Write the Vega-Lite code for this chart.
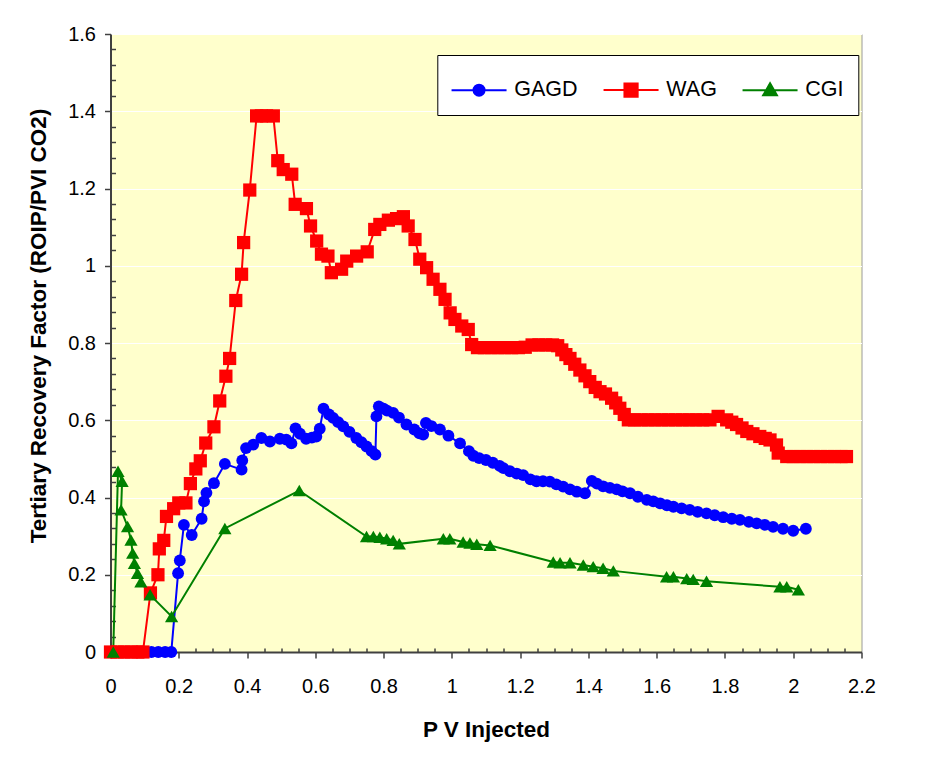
{
  "$schema": "https://vega.github.io/schema/vega-lite/v6.json",
  "width": 751,
  "height": 618,
  "autosize": {"type": "none"},
  "padding": {"left": 110.5, "top": 34, "right": 74.5, "bottom": 110},
  "background": "white",
  "config": {
    "view": {"fill": "#FFFFCC", "stroke": "#9A9A9A", "strokeWidth": 1},
    "font": "Liberation Sans",
    "axis": {
      "labelFont": "Liberation Sans",
      "labelFontSize": 20,
      "labelColor": "black",
      "titleFont": "Liberation Sans",
      "titleFontSize": 22.5,
      "titleFontWeight": "bold",
      "titleColor": "black",
      "domainColor": "#404040",
      "domainWidth": 2,
      "tickColor": "#404040",
      "tickWidth": 1.5
    },
    "legend": {
      "orient": "none", "legendX": 326.8, "legendY": 21,
      "direction": "horizontal",
      "titleFontSize": 9, "titlePadding": 1,
      "padding": 14,
      "strokeColor": "black", "fillColor": "white",
      "symbolSize": 121, "symbolStrokeWidth": 2, "symbolOffset": 17,
      "labelFont": "Liberation Sans", "labelFontSize": 21.5, "labelColor": "black",
      "labelOffset": 24.5, "columnPadding": 21
    }
  },
  "data": {"values": [
    {"s":"GAGD","x":0,"y":0},{"s":"GAGD","x":0.03,"y":0},{"s":"GAGD","x":0.06,"y":0},{"s":"GAGD","x":0.09,"y":0},{"s":"GAGD","x":0.12,"y":0},{"s":"GAGD","x":0.14,"y":0},{"s":"GAGD","x":0.16,"y":0},{"s":"GAGD","x":0.178,"y":0},
    {"s":"GAGD","x":0.198,"y":0.204},{"s":"GAGD","x":0.203,"y":0.237},{"s":"GAGD","x":0.215,"y":0.329},{"s":"GAGD","x":0.238,"y":0.303},{"s":"GAGD","x":0.267,"y":0.345},{"s":"GAGD","x":0.274,"y":0.39},{"s":"GAGD","x":0.281,"y":0.412},{"s":"GAGD","x":0.303,"y":0.437},{"s":"GAGD","x":0.335,"y":0.487},{"s":"GAGD","x":0.384,"y":0.472},{"s":"GAGD","x":0.386,"y":0.496},{"s":"GAGD","x":0.397,"y":0.528},{"s":"GAGD","x":0.418,"y":0.537},{"s":"GAGD","x":0.442,"y":0.554},{"s":"GAGD","x":0.467,"y":0.545},{"s":"GAGD","x":0.496,"y":0.552},{"s":"GAGD","x":0.515,"y":0.55},{"s":"GAGD","x":0.53,"y":0.54},{"s":"GAGD","x":0.542,"y":0.579},{"s":"GAGD","x":0.555,"y":0.565},{"s":"GAGD","x":0.573,"y":0.552},{"s":"GAGD","x":0.59,"y":0.555},{"s":"GAGD","x":0.603,"y":0.558},{"s":"GAGD","x":0.613,"y":0.578},{"s":"GAGD","x":0.624,"y":0.63},{"s":"GAGD","x":0.64,"y":0.615},{"s":"GAGD","x":0.652,"y":0.606},{"s":"GAGD","x":0.667,"y":0.595},{"s":"GAGD","x":0.682,"y":0.584},{"s":"GAGD","x":0.7,"y":0.57},{"s":"GAGD","x":0.72,"y":0.554},{"s":"GAGD","x":0.735,"y":0.543},{"s":"GAGD","x":0.75,"y":0.532},{"s":"GAGD","x":0.765,"y":0.52},{"s":"GAGD","x":0.776,"y":0.511},{"s":"GAGD","x":0.779,"y":0.61},{"s":"GAGD","x":0.786,"y":0.636},{"s":"GAGD","x":0.8,"y":0.63},{"s":"GAGD","x":0.81,"y":0.625},{"s":"GAGD","x":0.828,"y":0.619},{"s":"GAGD","x":0.845,"y":0.607},{"s":"GAGD","x":0.867,"y":0.589},{"s":"GAGD","x":0.89,"y":0.576},{"s":"GAGD","x":0.905,"y":0.566},{"s":"GAGD","x":0.916,"y":0.563},{"s":"GAGD","x":0.924,"y":0.593},{"s":"GAGD","x":0.94,"y":0.585},{"s":"GAGD","x":0.965,"y":0.576},{"s":"GAGD","x":0.99,"y":0.56},{"s":"GAGD","x":1.024,"y":0.54},{"s":"GAGD","x":1.05,"y":0.52},{"s":"GAGD","x":1.063,"y":0.508},{"s":"GAGD","x":1.08,"y":0.502},{"s":"GAGD","x":1.1,"y":0.497},{"s":"GAGD","x":1.12,"y":0.49},{"s":"GAGD","x":1.14,"y":0.482},{"s":"GAGD","x":1.151,"y":0.476},{"s":"GAGD","x":1.17,"y":0.468},{"s":"GAGD","x":1.19,"y":0.462},{"s":"GAGD","x":1.209,"y":0.458},{"s":"GAGD","x":1.23,"y":0.447},{"s":"GAGD","x":1.248,"y":0.442},{"s":"GAGD","x":1.267,"y":0.442},{"s":"GAGD","x":1.287,"y":0.441},{"s":"GAGD","x":1.306,"y":0.434},{"s":"GAGD","x":1.326,"y":0.428},{"s":"GAGD","x":1.346,"y":0.421},{"s":"GAGD","x":1.366,"y":0.415},{"s":"GAGD","x":1.39,"y":0.411},{"s":"GAGD","x":1.41,"y":0.443},{"s":"GAGD","x":1.425,"y":0.436},{"s":"GAGD","x":1.443,"y":0.429},{"s":"GAGD","x":1.463,"y":0.425},{"s":"GAGD","x":1.483,"y":0.421},{"s":"GAGD","x":1.5,"y":0.416},{"s":"GAGD","x":1.522,"y":0.411},{"s":"GAGD","x":1.545,"y":0.402},{"s":"GAGD","x":1.571,"y":0.394},{"s":"GAGD","x":1.59,"y":0.39},{"s":"GAGD","x":1.61,"y":0.385},{"s":"GAGD","x":1.63,"y":0.38},{"s":"GAGD","x":1.649,"y":0.376},{"s":"GAGD","x":1.673,"y":0.372},{"s":"GAGD","x":1.697,"y":0.368},{"s":"GAGD","x":1.72,"y":0.363},{"s":"GAGD","x":1.746,"y":0.359},{"s":"GAGD","x":1.77,"y":0.354},{"s":"GAGD","x":1.795,"y":0.349},{"s":"GAGD","x":1.82,"y":0.345},{"s":"GAGD","x":1.844,"y":0.342},{"s":"GAGD","x":1.87,"y":0.337},{"s":"GAGD","x":1.893,"y":0.333},{"s":"GAGD","x":1.917,"y":0.329},{"s":"GAGD","x":1.941,"y":0.324},{"s":"GAGD","x":1.97,"y":0.319},{"s":"GAGD","x":2.0,"y":0.314},{"s":"GAGD","x":2.037,"y":0.319},
    {"s":"WAG","x":0,"y":0},{"s":"WAG","x":0.02,"y":0},{"s":"WAG","x":0.04,"y":0},{"s":"WAG","x":0.06,"y":0},{"s":"WAG","x":0.08,"y":0},{"s":"WAG","x":0.095,"y":0},
    {"s":"WAG","x":0.117,"y":0.153},{"s":"WAG","x":0.139,"y":0.2},{"s":"WAG","x":0.143,"y":0.267},{"s":"WAG","x":0.156,"y":0.289},{"s":"WAG","x":0.164,"y":0.351},{"s":"WAG","x":0.185,"y":0.371},{"s":"WAG","x":0.2,"y":0.386},{"s":"WAG","x":0.221,"y":0.386},{"s":"WAG","x":0.234,"y":0.436},{"s":"WAG","x":0.25,"y":0.474},{"s":"WAG","x":0.263,"y":0.495},{"s":"WAG","x":0.279,"y":0.541},{"s":"WAG","x":0.303,"y":0.583},{"s":"WAG","x":0.32,"y":0.65},{"s":"WAG","x":0.338,"y":0.714},{"s":"WAG","x":0.349,"y":0.76},{"s":"WAG","x":0.367,"y":0.91},{"s":"WAG","x":0.384,"y":0.978},{"s":"WAG","x":0.39,"y":1.06},{"s":"WAG","x":0.408,"y":1.196},{"s":"WAG","x":0.428,"y":1.388},{"s":"WAG","x":0.442,"y":1.388},{"s":"WAG","x":0.457,"y":1.388},{"s":"WAG","x":0.477,"y":1.388},{"s":"WAG","x":0.49,"y":1.272},{"s":"WAG","x":0.506,"y":1.249},{"s":"WAG","x":0.531,"y":1.237},{"s":"WAG","x":0.541,"y":1.159},{"s":"WAG","x":0.574,"y":1.148},{"s":"WAG","x":0.586,"y":1.103},{"s":"WAG","x":0.604,"y":1.064},{"s":"WAG","x":0.618,"y":1.03},{"s":"WAG","x":0.637,"y":1.025},{"s":"WAG","x":0.647,"y":0.982},{"s":"WAG","x":0.677,"y":0.991},{"s":"WAG","x":0.692,"y":1.012},{"s":"WAG","x":0.721,"y":1.025},{"s":"WAG","x":0.752,"y":1.036},{"s":"WAG","x":0.774,"y":1.094},{"s":"WAG","x":0.789,"y":1.107},{"s":"WAG","x":0.814,"y":1.118},{"s":"WAG","x":0.838,"y":1.122},{"s":"WAG","x":0.858,"y":1.127},{"s":"WAG","x":0.872,"y":1.103},{"s":"WAG","x":0.892,"y":1.068},{"s":"WAG","x":0.906,"y":1.017},{"s":"WAG","x":0.926,"y":0.995},{"s":"WAG","x":0.945,"y":0.965},{"s":"WAG","x":0.965,"y":0.939},{"s":"WAG","x":0.98,"y":0.913},{"s":"WAG","x":0.995,"y":0.878},{"s":"WAG","x":1.009,"y":0.861},{"s":"WAG","x":1.029,"y":0.844},{"s":"WAG","x":1.048,"y":0.835},{"s":"WAG","x":1.058,"y":0.796},
    {"s":"WAG","x":1.075,"y":0.788},{"s":"WAG","x":1.095,"y":0.788},{"s":"WAG","x":1.115,"y":0.788},{"s":"WAG","x":1.135,"y":0.788},{"s":"WAG","x":1.155,"y":0.788},{"s":"WAG","x":1.175,"y":0.788},{"s":"WAG","x":1.195,"y":0.788},{"s":"WAG","x":1.215,"y":0.789},{"s":"WAG","x":1.235,"y":0.795},{"s":"WAG","x":1.255,"y":0.795},{"s":"WAG","x":1.275,"y":0.795},{"s":"WAG","x":1.295,"y":0.795},{"s":"WAG","x":1.31,"y":0.793},
    {"s":"WAG","x":1.322,"y":0.782},{"s":"WAG","x":1.334,"y":0.77},{"s":"WAG","x":1.346,"y":0.76},{"s":"WAG","x":1.36,"y":0.745},{"s":"WAG","x":1.375,"y":0.73},{"s":"WAG","x":1.39,"y":0.715},{"s":"WAG","x":1.404,"y":0.7},{"s":"WAG","x":1.42,"y":0.685},{"s":"WAG","x":1.434,"y":0.674},{"s":"WAG","x":1.45,"y":0.668},{"s":"WAG","x":1.468,"y":0.657},{"s":"WAG","x":1.48,"y":0.645},{"s":"WAG","x":1.492,"y":0.631},{"s":"WAG","x":1.505,"y":0.615},{"s":"WAG","x":1.517,"y":0.601},
    {"s":"WAG","x":1.535,"y":0.601},{"s":"WAG","x":1.555,"y":0.601},{"s":"WAG","x":1.575,"y":0.601},{"s":"WAG","x":1.595,"y":0.601},{"s":"WAG","x":1.615,"y":0.601},{"s":"WAG","x":1.635,"y":0.601},{"s":"WAG","x":1.655,"y":0.601},{"s":"WAG","x":1.675,"y":0.601},{"s":"WAG","x":1.695,"y":0.601},{"s":"WAG","x":1.715,"y":0.601},{"s":"WAG","x":1.735,"y":0.601},{"s":"WAG","x":1.756,"y":0.601},{"s":"WAG","x":1.78,"y":0.61},{"s":"WAG","x":1.805,"y":0.601},{"s":"WAG","x":1.82,"y":0.595},{"s":"WAG","x":1.834,"y":0.589},{"s":"WAG","x":1.85,"y":0.58},{"s":"WAG","x":1.864,"y":0.571},{"s":"WAG","x":1.882,"y":0.565},{"s":"WAG","x":1.902,"y":0.558},{"s":"WAG","x":1.918,"y":0.553},{"s":"WAG","x":1.932,"y":0.549},{"s":"WAG","x":1.951,"y":0.536},{"s":"WAG","x":1.956,"y":0.515},{"s":"WAG","x":1.981,"y":0.506},{"s":"WAG","x":2.0,"y":0.506},{"s":"WAG","x":2.02,"y":0.506},{"s":"WAG","x":2.04,"y":0.506},{"s":"WAG","x":2.06,"y":0.506},{"s":"WAG","x":2.08,"y":0.506},{"s":"WAG","x":2.1,"y":0.506},{"s":"WAG","x":2.12,"y":0.506},{"s":"WAG","x":2.14,"y":0.506},{"s":"WAG","x":2.156,"y":0.506},
    {"s":"CGI","x":0.008,"y":0},{"s":"CGI","x":0.022,"y":0.468},{"s":"CGI","x":0.034,"y":0.442},{"s":"CGI","x":0.031,"y":0.368},{"s":"CGI","x":0.05,"y":0.325},{"s":"CGI","x":0.06,"y":0.29},{"s":"CGI","x":0.065,"y":0.256},{"s":"CGI","x":0.07,"y":0.23},{"s":"CGI","x":0.079,"y":0.204},{"s":"CGI","x":0.089,"y":0.182},{"s":"CGI","x":0.116,"y":0.148},{"s":"CGI","x":0.179,"y":0.092},{"s":"CGI","x":0.335,"y":0.32},{"s":"CGI","x":0.553,"y":0.418},
    {"s":"CGI","x":0.75,"y":0.299},{"s":"CGI","x":0.77,"y":0.299},{"s":"CGI","x":0.789,"y":0.297},{"s":"CGI","x":0.809,"y":0.293},{"s":"CGI","x":0.828,"y":0.289},{"s":"CGI","x":0.846,"y":0.28},{"s":"CGI","x":0.975,"y":0.293},{"s":"CGI","x":0.994,"y":0.293},{"s":"CGI","x":1.033,"y":0.285},{"s":"CGI","x":1.053,"y":0.282},{"s":"CGI","x":1.073,"y":0.279},{"s":"CGI","x":1.112,"y":0.276},{"s":"CGI","x":1.297,"y":0.233},{"s":"CGI","x":1.317,"y":0.231},{"s":"CGI","x":1.346,"y":0.231},{"s":"CGI","x":1.385,"y":0.225},{"s":"CGI","x":1.414,"y":0.221},{"s":"CGI","x":1.443,"y":0.217},{"s":"CGI","x":1.473,"y":0.21},{"s":"CGI","x":1.629,"y":0.195},{"s":"CGI","x":1.649,"y":0.195},{"s":"CGI","x":1.688,"y":0.19},{"s":"CGI","x":1.707,"y":0.188},{"s":"CGI","x":1.746,"y":0.183},{"s":"CGI","x":1.961,"y":0.169},{"s":"CGI","x":1.981,"y":0.169},{"s":"CGI","x":2.015,"y":0.161}
  ]},
  "layer": [
    {
      "mark": {"type": "line", "strokeWidth": 2},
      "encoding": {
        "x": {"field": "x", "type": "quantitative", "scale": {"domain": [0, 2.2], "nice": false, "zero": false},
              "axis": {"orient": "bottom", "title": "P V Injected", "values": [0,0.2,0.4,0.6,0.8,1,1.2,1.4,1.6,1.8,2,2.2], "format": "~g",
                       "grid": false, "tickSize": 6, "labelPadding": 28, "labelBaseline": "middle", "labelFlush": false,
                       "titleBaseline": "alphabetic", "titleY": 84.7}},
        "y": {"field": "y", "type": "quantitative", "scale": {"domain": [0, 1.6], "nice": false},
              "axis": {"orient": "left", "title": "Tertiary Recovery Factor (ROIP/PVI CO2)", "values": [0,0.2,0.4,0.6,0.8,1,1.2,1.4,1.6], "format": "~g",
                       "grid": true, "gridColor": "white", "gridWidth": 1, "gridOpacity": 1, "labelFlush": false,
                       "tickSize": 6, "labelPadding": 9,
                       "titleX": -65.5, "titleY": 291.5, "titleAngle": -90, "titleBaseline": "alphabetic", "titleAlign": "center"}},
        "color": {"field": "s", "type": "nominal", "scale": {"domain": ["GAGD", "WAG", "CGI"], "range": ["#0000FF", "#FF0000", "#008000"]}, "title": " "},
        "order": {"value": null}
      }
    },
    {
      "transform": [{"filter": "datum.s === 'GAGD'"}],
      "mark": {"type": "point", "filled": true, "opacity": 1, "shape": "circle", "size": 140},
      "encoding": {
        "x": {"field": "x", "type": "quantitative",
              "axis": {"orient": "bottom", "title": null, "labels": false, "domain": false, "grid": false, "tickSize": 4, "offset": -4,
                       "values": [0.05,0.1,0.15,0.25,0.3,0.35,0.45,0.5,0.55,0.65,0.7,0.75,0.85,0.9,0.95,1.05,1.1,1.15,1.25,1.3,1.35,1.45,1.5,1.55,1.65,1.7,1.75,1.85,1.9,1.95,2.05,2.1,2.15]}},
        "y": {"field": "y", "type": "quantitative",
              "axis": {"orient": "left", "title": null, "labels": false, "domain": false, "grid": false, "tickSize": 5, "offset": -5,
                       "values": [0.04,0.08,0.12,0.16,0.24,0.28,0.32,0.36,0.44,0.48,0.52,0.56,0.64,0.68,0.72,0.76,0.84,0.88,0.92,0.96,1.04,1.08,1.12,1.16,1.24,1.28,1.32,1.36,1.44,1.48,1.52,1.56]}},
        "color": {"field": "s", "type": "nominal", "title": " "}
      }
    },
    {
      "transform": [{"filter": "datum.s === 'WAG'"}],
      "mark": {"type": "point", "filled": true, "opacity": 1, "shape": "square", "size": 175},
      "encoding": {
        "x": {"field": "x", "type": "quantitative", "axis": null},
        "y": {"field": "y", "type": "quantitative", "axis": null},
        "color": {"field": "s", "type": "nominal", "title": " "}
      }
    },
    {
      "transform": [{"filter": "datum.s === 'CGI'"}],
      "mark": {"type": "point", "filled": true, "opacity": 1, "shape": "triangle-up", "size": 175},
      "encoding": {
        "x": {"field": "x", "type": "quantitative", "axis": null},
        "y": {"field": "y", "type": "quantitative", "axis": null},
        "color": {"field": "s", "type": "nominal", "title": " "}
      }
    },
    {
      "transform": [{"filter": "datum.x < 0"}],
      "mark": {"type": "point", "filled": true, "opacity": 1, "size": 121, "strokeWidth": 2},
      "encoding": {
        "x": {"field": "x", "type": "quantitative", "axis": null},
        "y": {"field": "y", "type": "quantitative", "axis": null},
        "color": {"field": "s", "type": "nominal", "title": " "},
        "stroke": {"field": "s", "type": "nominal", "title": " ", "scale": {"domain": ["GAGD", "WAG", "CGI"], "range": ["#0000FF", "#FF0000", "#008000"]}},
        "shape": {"field": "s", "type": "nominal", "title": " ",
                  "scale": {"domain": ["GAGD", "WAG", "CGI"], "range": ["M-5,0H5M-1,0A1,1,0,1,0,1,0A1,1,0,1,0,-1,0Z", "M-5,0H5M-1.2,-1.2H1.2V1.2H-1.2Z", "M-5,0H5M0,-1.25L1.25,0.95H-1.25Z"]}}
      }
    }
  ],
  "resolve": {"axis": {"x": "independent", "y": "independent"}}
}
